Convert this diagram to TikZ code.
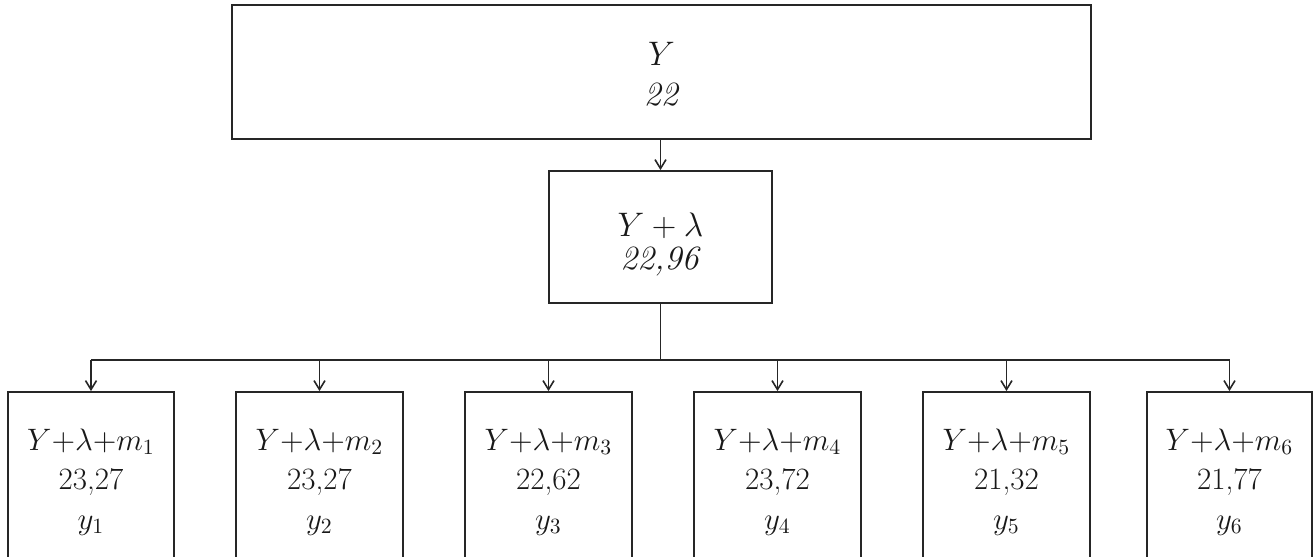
\RequirePackage{fix-cm}
\documentclass[tikz,border=0pt]{standalone}
\usetikzlibrary{arrows.meta}
\begin{document}
\begin{tikzpicture}[x=0.5pt,y=-0.5pt,
  box/.style={draw=black!85, line width=0.9pt, inner sep=0pt, align=center, text=black!90},
  bigtxt/.style={font=\fontsize{17}{20}\selectfont},
  midtxt/.style={font=\fontsize{17}{16.5}\selectfont},
  smalltxt/.style={font=\fontsize{15.5}{19.75}\selectfont},
  leaf/.style={box, smalltxt, minimum height=90pt},
  conn/.style={draw=black!85, line width=0.8pt},
  arr/.style={conn, -{Straight Barb[length=4.5pt,width=5.5pt,line width=0.8pt]}}]
\useasboundingbox (0,0) rectangle (1314,557);
\clip (0,0) rectangle (1314,557);
\node[box, bigtxt, minimum width=429.5pt, minimum height=67pt] (top) at (661.5,72)
  {\rule{0pt}{14.2pt}$Y$\\\textit{22}};
\node[box, midtxt, minimum width=111.5pt, minimum height=66pt] (mid) at (660.5,237)
  {\rule{0pt}{18.8pt}$Y+\lambda$\\\textit{22,96}};
\node[leaf, minimum width=83pt] (b1) at (91,482)
  {$Y{+}\lambda{+}m_1$\\23,27\\$y_1$};
\node[leaf, minimum width=83.5pt] (b2) at (319.5,482)
  {$Y{+}\lambda{+}m_2$\\23,27\\$y_2$};
\node[leaf, minimum width=83.5pt] (b3) at (548.5,482)
  {$Y{+}\lambda{+}m_3$\\22,62\\$y_3$};
\node[leaf, minimum width=83.5pt] (b4) at (777.5,482)
  {$Y{+}\lambda{+}m_4$\\23,72\\$y_4$};
\node[leaf, minimum width=83.5pt] (b5) at (1006.5,482)
  {$Y{+}\lambda{+}m_5$\\21,32\\$y_5$};
\node[leaf, minimum width=82.5pt] (b6) at (1229.5,482)
  {$Y{+}\lambda{+}m_6$\\21,77\\$y_6$};
\coordinate (bus) at (660.5,360);
\draw[arr] (top.south -| mid.north) -- (mid.north);
\draw[conn] (mid.south) -- (bus);
\draw[conn] (b1.north |- bus) -- (b6.north |- bus);
\foreach \b in {b1,b2,b3,b4,b5,b6}
  \draw[arr] (\b.north |- bus) -- (\b.north);
\end{tikzpicture}
\end{document}
